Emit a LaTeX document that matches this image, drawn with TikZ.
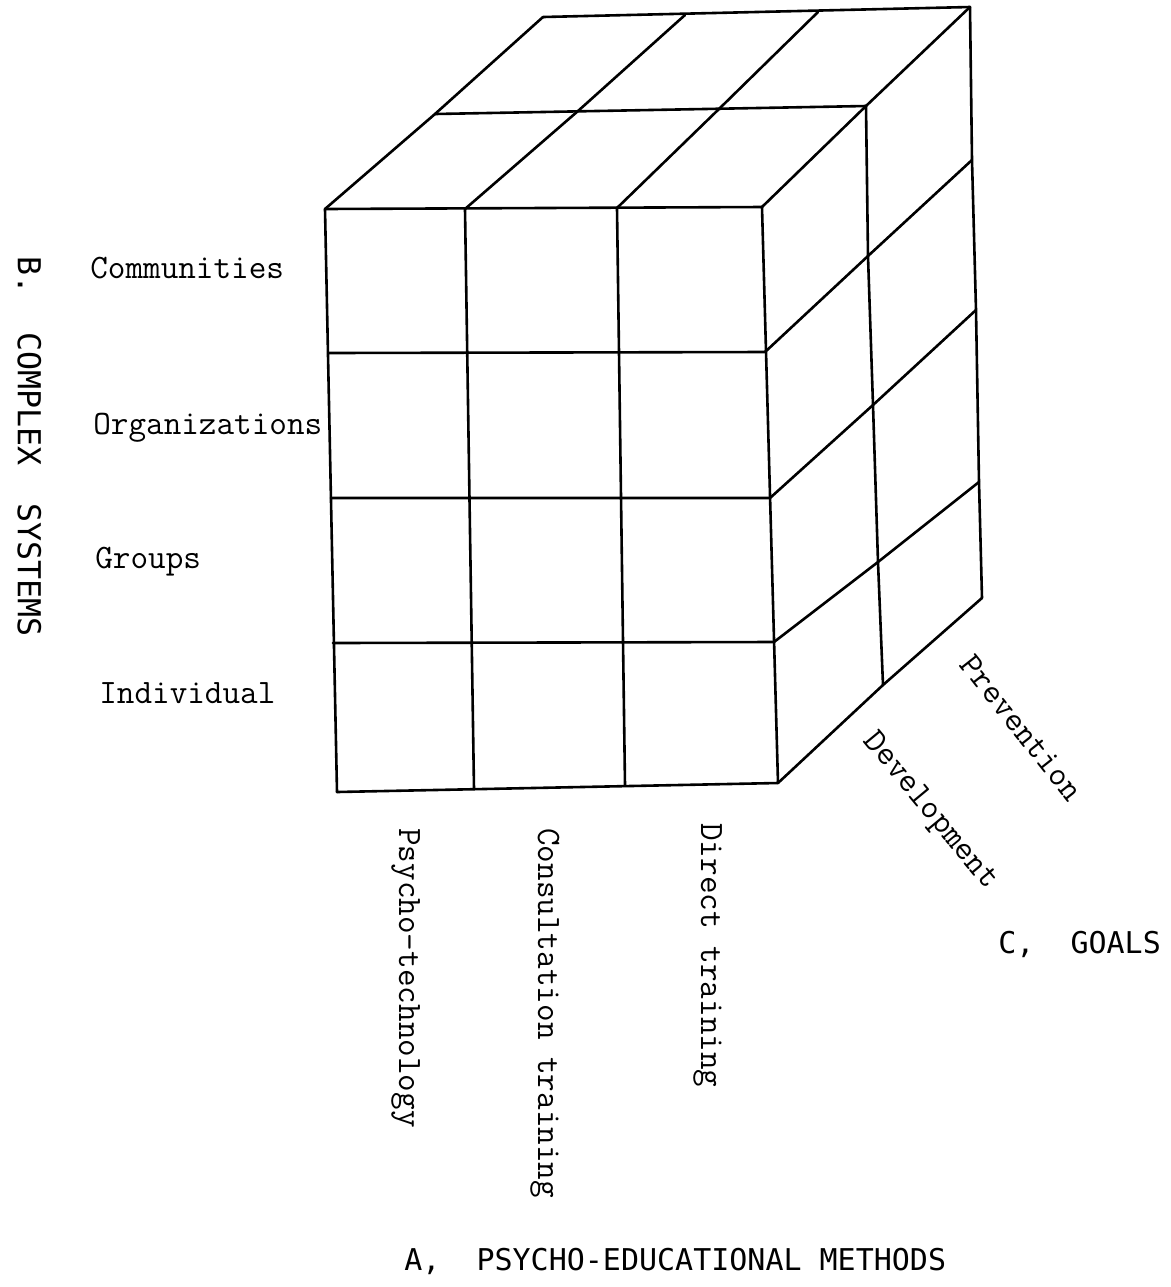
\documentclass[tikz,border=0pt]{standalone}
\usepackage{fontspec}
\newfontfamily\titlefont{DejaVu Sans Mono}
\begin{document}
\begin{tikzpicture}[x=0.5pt,y=-0.5pt,line width=1.3pt,line join=round,line cap=round,
  lab/.style={font=\ttfamily\fontsize{17.1pt}{20pt}\selectfont,inner sep=0pt,anchor=base west},
  ttl/.style={font=\titlefont\fontsize{15pt}{18pt}\selectfont,inner sep=0pt,anchor=base west},
  grid/.style={draw=black}]
\useasboundingbox (0,0) rectangle (1171,1287);
% front face grid
\coordinate (f00) at (325,209); \coordinate (f01) at (465,209); \coordinate (f02) at (617,208); \coordinate (f03) at (762,207);
\coordinate (f10) at (329,353); \coordinate (f11) at (467,353); \coordinate (f12) at (619,352); \coordinate (f13) at (765,352);
\coordinate (f20) at (331,498); \coordinate (f21) at (469,498); \coordinate (f22) at (621,498); \coordinate (f23) at (770,498);
\coordinate (f30) at (333,643); \coordinate (f31) at (471,643); \coordinate (f32) at (623,642); \coordinate (f33) at (774,642);
\coordinate (f40) at (337,792); \coordinate (f41) at (474,789); \coordinate (f42) at (625,785); \coordinate (f43) at (778,783);
% top face
\coordinate (m0) at (435,114); \coordinate (m1) at (578,111); \coordinate (m2) at (720,108); \coordinate (m3) at (866,106);
\coordinate (b0) at (543,17); \coordinate (b1) at (685,15); \coordinate (b2) at (818,12); \coordinate (b3) at (970,7);
% right face
\coordinate (rm1) at (868,256); \coordinate (rm2) at (873,405); \coordinate (rm3) at (878,562); \coordinate (rm4) at (883,685);
\coordinate (rb1) at (972,160); \coordinate (rb2) at (976,310); \coordinate (rb3) at (979,482); \coordinate (rb4) at (982,598);

\draw[grid] (f00) -- (f03) (f10) -- (f13) (f20) -- (f23) (f30) -- (f33) (f40) -- (f43);
\draw[grid] (f00) -- (f40) (f01) -- (f41) (f02) -- (f42) (f03) -- (f43);
\draw[grid] (m0) -- (m3) (b0) -- (b3);
\draw[grid] (f00) -- (m0) -- (b0) (f01) -- (m1) -- (b1) (f02) -- (m2) -- (b2) (f03) -- (m3) -- (b3);
\draw[grid] (m3) -- (rm1) -- (rm2) -- (rm3) -- (rm4);
\draw[grid] (b3) -- (rb1) -- (rb2) -- (rb3) -- (rb4);
\draw[grid] (f13) -- (rm1) -- (rb1) (f23) -- (rm2) -- (rb2) (f33) -- (rm3) -- (rb3) (f43) -- (rm4) -- (rb4);

% B axis
\node[ttl,rotate=-90,font=\titlefont\fontsize{15.8pt}{18pt}\selectfont] (systems) at (18,255) {B.\ \ COMPLEX\ \ SYSTEMS};
\node[lab] (communities) at (89,278) {Communities};
\node[lab] (organizations) at (92,434) {Organizations};
\node[lab] (groups) at (94,568) {Groups};
\node[lab] (individual) at (98,703) {Individual};
% A axis
\node[lab,rotate=-90] (psycho) at (399,827) {Psycho-technology};
\node[lab,rotate=-90] (consult) at (538,827) {Consultation training};
\node[lab,rotate=-90] (direct) at (701,822) {Direct training};
\node[ttl] (methods) at (403,1270) {A,\ \ PSYCHO-EDUCATIONAL METHODS};
% C axis
\node[lab,rotate=-51.6] (prevention) at (958,664) {Prevention};
\node[lab,rotate=-50.4] (development) at (862,740) {Development};
\node[ttl] (goals) at (997,953) {C,\ \ GOALS};
\end{tikzpicture}
\end{document}
